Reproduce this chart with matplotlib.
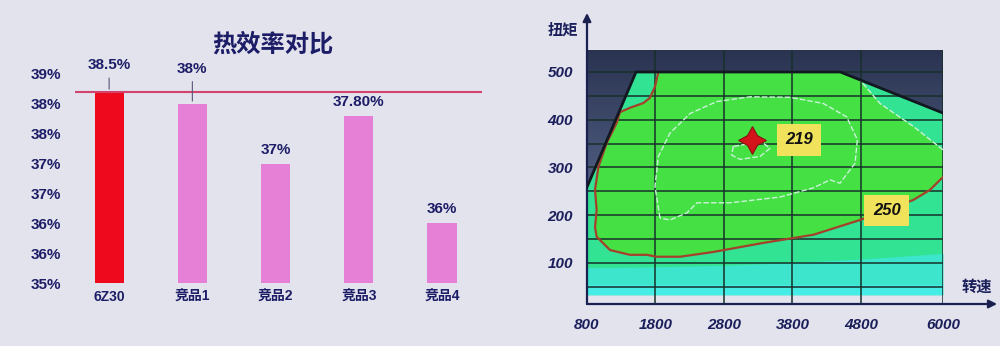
import numpy as np
import matplotlib
matplotlib.use("Agg")
import matplotlib.pyplot as plt
from matplotlib.colors import LinearSegmentedColormap

plt.rcParams['font.family'] = ['Liberation Sans', 'Noto Sans CJK SC', 'DejaVu Sans']

# ---- left chart data: 热效率对比 ----
categories = ["6Z30", "竞品1", "竞品2", "竞品3", "竞品4"]
efficiency = [38.2, 38.0, 37.0, 37.8, 36.0]
value_labels = ["38.5%", "38%", "37%", "37.80%", "36%"]
y_ticks = [35.0, 35.5, 36.0, 36.5, 37.0, 37.5, 38.0, 38.5]
y_tick_labels = ["35%", "36%", "36%", "37%", "37%", "38%", "38%", "39%"]

# ---- right chart data: 万有特性 (rpm / torque) ----
rpm_ticks = [800, 1800, 2800, 3800, 4800, 6000]
torque_ticks = [100, 200, 300, 400, 500]
envelope_rpm = [800, 1516, 4500, 6000]
envelope_torque = [259, 500, 500, 414]
low_band_rpm = [800, 1800, 2800, 3800, 4800, 6000]
low_band_torque = [90, 92, 95, 101, 108, 120]
c250_rpm = [1842, 1793, 1720, 1623, 1428, 1282, 1233, 1087, 966, 917, 941, 917, 941,
            1136, 1428, 1672, 1818, 2158, 2645, 3376, 4106, 4788, 5567, 5810, 6000]
c250_torque = [500, 469, 446, 435, 425, 416, 393, 351, 301, 253, 211, 175, 155,
               127, 117, 117, 113, 113, 123, 142, 159, 190, 232, 253, 280]
edge_rpm = [6000, 5567, 5080, 4788]
edge_torque = [337, 386, 434, 483]
inner_rpm = [1866, 1793, 1842, 2012, 2305, 2694, 3181, 3765, 4252, 4593, 4749, 4715,
             4496, 4350, 4100, 3620, 2890, 2407, 2260, 2012, 1866]
inner_torque = [194, 260, 323, 372, 413, 438, 448, 447, 434, 406, 358, 309,
                267, 274, 257, 238, 226, 226, 205, 190, 194]
core_rpm = [2937, 2913, 3035, 3327, 3473, 3376, 3132, 2937]
core_torque = [344, 326, 317, 323, 340, 351, 349, 344]
best_point = (3205, 358)
best_label = ("219", 3897, 358)
c250_label = ("250", 5177, 210)

NAVY = '#1c1d66'
fig = plt.figure(figsize=(10, 3.46), dpi=100)
fig.patch.set_facecolor('#e3e3ee')

# ================= left: bar chart =================
ax1 = fig.add_axes([0.075, 0.182, 0.407, 0.725])
ax1.set_facecolor('none')
x = np.arange(len(categories))
colors = ['#ee0a1c'] + ['#e67fd6'] * (len(categories) - 1)
ax1.bar(x, [v - 35 for v in efficiency], bottom=35, width=0.35, color=colors)
ax1.axhline(efficiency[0], color='#d2436e', lw=1.5)
offsets = [14, 20, 5, 5, 5]
for i, (v, lab) in enumerate(zip(efficiency, value_labels)):
    arrow = dict(arrowstyle='-', color='#555577', lw=0.8) if offsets[i] > 10 else None
    ax1.annotate(lab, (x[i], v), xytext=(0, offsets[i]), textcoords='offset points',
                 ha='center', va='bottom', fontsize=11, fontweight='bold', color=NAVY,
                 arrowprops=arrow)
ax1.set_xlim(-0.41, 4.48)
ax1.set_ylim(35, 39.2)
ax1.set_yticks(y_ticks)
ax1.set_yticklabels(y_tick_labels)
ax1.set_xticks(x)
ax1.set_xticklabels(categories)
ax1.tick_params(axis='y', length=0, pad=10, labelsize=11, labelcolor=NAVY)
ax1.tick_params(axis='x', length=0, pad=5, labelsize=10, labelcolor=NAVY)
for t in ax1.get_xticklabels() + ax1.get_yticklabels():
    t.set_fontweight('bold')
for s in ax1.spines.values():
    s.set_visible(False)
fig.text(0.273, 0.87, "热效率对比", ha='center', va='center', fontsize=17.5,
         fontweight='bold', color=NAVY)

# ================= right: engine map =================
ax2 = fig.add_axes([0.587, 0.1214, 0.356, 0.734])
ax2.set_facecolor('none')
ax2.set_xlim(800, 6000)
ax2.set_ylim(14, 546)

# dark gradient background
dark = LinearSegmentedColormap.from_list('dark', ['#6f80aa', '#2a3350'])
grad = np.linspace(0, 1, 256).reshape(-1, 1)
ax2.imshow(grad, cmap=dark, extent=(800, 6000, 33, 546), origin='lower',
           aspect='auto', zorder=0, vmin=0, vmax=1)

# full-load envelope fill
env_x = [800] + envelope_rpm + [6000]
env_y = [33] + envelope_torque + [33]
ax2.fill(env_x, env_y, color='#31e392', zorder=1, lw=0)
# low load bands
ax2.fill_between(low_band_rpm, 33, low_band_torque, color='#3ce5cc', zorder=1.2, lw=0)
ax2.fill_between([800, 6000], 33, 53, color='#46ece6', zorder=1.3, lw=0)

# green area inside 250 contour
green_x = c250_rpm + edge_rpm + [4500, 1842]
green_y = c250_torque + edge_torque + [500, 500]
ax2.fill(green_x, green_y, color='#45e044', zorder=2, lw=0)

# contour lines
ax2.plot(c250_rpm, c250_torque, color='#a4402c', lw=1.6, zorder=4)
ax2.plot(edge_rpm, edge_torque, color='#c9f3d8', lw=1, ls=(0, (4, 1.5)), zorder=4)
ax2.plot(inner_rpm, inner_torque, color='#c9f3d8', lw=1, ls=(0, (4, 1.5)), zorder=4)
ax2.plot(core_rpm, core_torque, color='#c9f3d8', lw=1, ls=(0, (4, 1.5)), zorder=4)
ax2.plot(envelope_rpm, envelope_torque, color='#121820', lw=2, zorder=5)

# grid
for t in range(50, 546, 50):
    ax2.plot([800, 6000], [t, t], color='#17302a', lw=1.1, zorder=3)
for r in rpm_ticks[1:]:
    ax2.plot([r, r], [14, 546], color='#17302a', lw=1.1, zorder=3)

# best point and labels
ax2.plot(*best_point, marker=(4, 1, 0), markersize=20, color='#d4141a',
         markeredgecolor='#8a1010', markeredgewidth=0.8, zorder=6)
for lab, lx, ly in [best_label, c250_label]:
    ax2.text(lx, ly, lab, ha='center', va='center', fontsize=12, fontweight='bold',
             style='italic', color='#111111', zorder=7,
             bbox=dict(boxstyle='square,pad=0.5', fc='#f1e25c', ec='none'))

# axes with arrows
for s in ax2.spines.values():
    s.set_visible(False)
ax2.annotate('', xy=(0, 1.146), xytext=(0, 0), xycoords='axes fraction',
             arrowprops=dict(arrowstyle='-|>', color='#1a2050', lw=1.6,
                             mutation_scale=12, shrinkA=0, shrinkB=0))
ax2.annotate('', xy=(1.152, 0), xytext=(0, 0), xycoords='axes fraction',
             arrowprops=dict(arrowstyle='-|>', color='#1a2050', lw=1.6,
                             mutation_scale=12, shrinkA=0, shrinkB=0))
ax2.set_xticks(rpm_ticks)
ax2.set_yticks(torque_ticks)
ax2.tick_params(length=0, labelsize=11, labelcolor='#1a1f5a')
ax2.tick_params(axis='x', pad=10)
ax2.tick_params(axis='y', pad=10)
for t in ax2.get_xticklabels() + ax2.get_yticklabels():
    t.set_fontweight('bold')
    t.set_style('italic')
fig.text(0.563, 0.913, "扭矩", ha='center', va='center', fontsize=11,
         fontweight='bold', color='#1a1f5a')
fig.text(0.977, 0.17, "转速", ha='center', va='center', fontsize=11,
         fontweight='bold', color='#1a1f5a')

fig.savefig("out.png", dpi=100, facecolor=fig.get_facecolor())
